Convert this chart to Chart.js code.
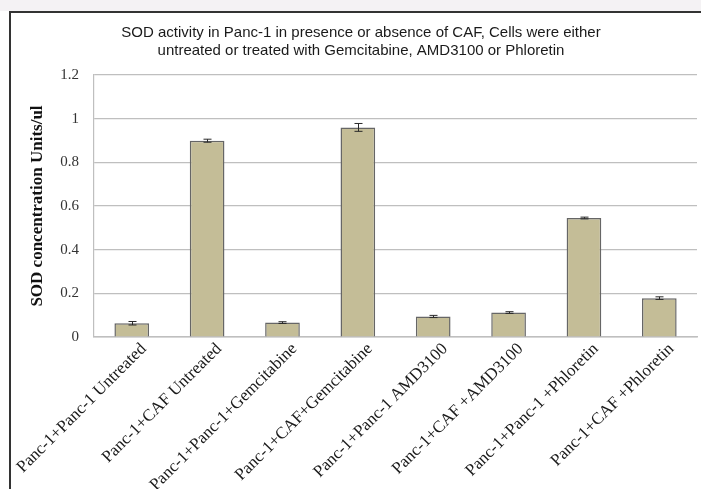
<!DOCTYPE html>
<html>
<head>
<meta charset="utf-8">
<script src="https://cdn.jsdelivr.net/npm/chart.js@4.4.1/dist/chart.umd.min.js"></script>
<style>
  html, body { margin:0; padding:0; background:#ffffff; }
  #wrap { position:relative; width:701px; height:489px; overflow:hidden; }
  #strip { position:absolute; left:0; top:0; width:701px; height:11px; background:#f4f2f4; }
  #frame { position:absolute; left:9px; top:11px; width:700px; height:476px;
           border-left:2px solid #333; border-top:2px solid #333; border-bottom:1px solid #dcdcdc; }
  canvas { position:absolute; left:0; top:0; }
</style>
</head>
<body>
<div id="wrap">
  <div id="strip"></div>
  <div id="frame"></div>
  <canvas id="c" width="701" height="489"></canvas>
</div>
<script>
const titleLines = [
  "SOD activity in Panc-1 in presence or absence of CAF, Cells were either",
  "untreated or treated with Gemcitabine, AMD3100 or Phloretin"
];
const categories = [
  "Panc-1+Panc-1 Untreated",
  "Panc-1+CAF Untreated",
  "Panc-1+Panc-1+Gemcitabine",
  "Panc-1+CAF+Gemcitabine",
  "Panc-1+Panc-1 AMD3100",
  "Panc-1+CAF +AMD3100",
  "Panc-1+Panc-1 +Phloretin",
  "Panc-1+CAF +Phloretin"
];
const sodValues = [0.063, 0.899, 0.066, 0.960, 0.094, 0.112, 0.545, 0.178];
const sodErrors = [0.008, 0.007, 0.004, 0.018, 0.005, 0.004, 0.004, 0.006];
const yAxisTitle = "SOD concentration Units/ul";

const titlePlugin = {
  id: 'customTitle',
  beforeDraw(chart) {
    const ctx = chart.ctx;
    ctx.save();
    ctx.fillStyle = '#1a1a1a';
    ctx.font = '15px "Liberation Sans", Arial, sans-serif';
    ctx.textAlign = 'center';
    ctx.textBaseline = 'middle';
    titleLines.forEach((t, i) => ctx.fillText(t, 361, 33 + i * 18));
    ctx.restore();
  }
};

const errorBarPlugin = {
  id: 'errorBars',
  afterDatasetsDraw(chart) {
    const ctx = chart.ctx;
    const meta = chart.getDatasetMeta(0);
    const y = chart.scales.y;
    ctx.save();
    ctx.strokeStyle = '#2a2a2a';
    ctx.lineWidth = 1;
    meta.data.forEach((bar, i) => {
      const v = sodValues[i], e = sodErrors[i];
      const x = Math.round(bar.x) + 0.5;
      const yTop = y.getPixelForValue(v + e);
      const yBot = y.getPixelForValue(v - e);
      ctx.beginPath();
      ctx.moveTo(x, yTop); ctx.lineTo(x, yBot);
      ctx.moveTo(x - 4, yTop); ctx.lineTo(x + 4, yTop);
      ctx.moveTo(x - 4, yBot); ctx.lineTo(x + 4, yBot);
      ctx.stroke();
    });
    ctx.restore();
  }
};

new Chart(document.getElementById('c'), {
  type: 'bar',
  data: {
    labels: categories,
    datasets: [{
      data: sodValues,
      backgroundColor: '#c4bd97',
      borderColor: '#666666',
      borderWidth: 1.5,
      categoryPercentage: 1.0,
      barPercentage: 0.46
    }]
  },
  options: {
    responsive: false,
    animation: false,
    layout: { padding: { top: 75, right: 4, left: 0, bottom: 0 } },
    plugins: { legend: { display: false }, title: { display: false }, tooltip: { enabled: false } },
    scales: {
      x: {
        offset: true,
        grid: { display: false, drawTicks: false },
        border: { display: true, color: '#bfbfbf', width: 1.5 },
        ticks: {
          maxRotation: 45, minRotation: 45, autoSkip: false, padding: 2, labelOffset: 12,
          color: '#1a1a1a',
          font: { family: '"Liberation Serif", "Times New Roman", serif', size: 17 }
        },
        afterFit(scale) { scale.height = 152; }
      },
      y: {
        min: 0, max: 1.2,
        ticks: {
          stepSize: 0.2, padding: 15, color: '#333',
          font: { family: '"Liberation Serif", "Times New Roman", serif', size: 15 },
          callback: (v) => (Math.round(v * 10) / 10).toString()
        },
        grid: { color: '#bfbfbf', lineWidth: 1.2, drawTicks: false },
        border: { display: true, color: '#bfbfbf', width: 1.2 },
        title: {
          display: true, text: yAxisTitle, color: '#111',
          font: { family: '"Liberation Serif", "Times New Roman", serif', size: 17, weight: 'bold' },
          padding: { top: 26, bottom: 0 }
        },
        afterFit(scale) { scale.width = 93; }
      }
    }
  },
  plugins: [titlePlugin, errorBarPlugin]
});
</script>
</body>
</html>
